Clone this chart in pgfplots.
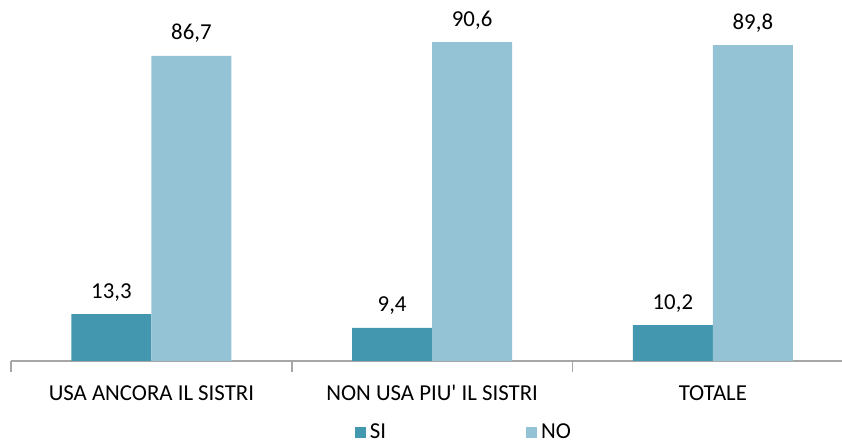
\documentclass[border=0pt]{standalone}
\usepackage{pgfplots}
\pgfplotsset{compat=1.18}
\usepackage{fontspec}
\setmainfont{Carlito}
\definecolor{siC}{HTML}{4398B0}
\definecolor{noC}{HTML}{93C3D5}
\definecolor{axC}{HTML}{A6A6A6}
\begin{document}
\begin{tikzpicture}
\begin{axis}[
  scale only axis,
  width=415.5pt, height=180.5pt,
  xmin=-0.5, xmax=2.46,
  ymin=0, ymax=102.6,
  ybar=0pt, bar width=40pt,
  axis x line*=bottom,
  axis y line=none,
  x axis line style={draw=axC, line width=0.8pt, -},
  xtick={0,1,2},
  xticklabels={USA ANCORA IL SISTRI, NON USA PIU\textquotesingle{} IL SISTRI, TOTALE},
  major x tick style={draw=none},
  minor xtick={-0.5,0.5,1.5,2.5},
  minor tick length=5.5pt,
  tick align=outside,
  minor x tick style={draw=axC, line width=0.8pt},
  xticklabel style={font=\fontsize{11.4}{13}\selectfont, yshift=-4.5pt},
  ytick=\empty,
  nodes near coords,
  every node near coord/.append style={font=\fontsize{11.4}{13}\selectfont, yshift=3pt, text=black},
  /pgf/number format/.cd, use comma, fixed, fixed zerofill, precision=1, assume math mode=true,
  /pgfplots/.cd,
  legend columns=2,
  legend style={draw=none, fill=none, at={(227pt,-36pt)}, anchor=center,
    font=\fontsize{11.4}{13}\selectfont,
    /tikz/every even column/.append style={column sep=68pt}},
  legend image code/.code={\fill[#1] (0pt,-2.75pt) rectangle (5.5pt,2.75pt);},
]
\addplot[fill=siC, draw=none] coordinates {(0,13.3) (1,9.4) (2,10.2)};
\addplot[fill=noC, draw=none] coordinates {(0,86.7) (1,90.6) (2,89.8)};
\legend{SI, NO}
\end{axis}
\pgfresetboundingbox
\path[use as bounding box] (-5.5pt,-41pt) rectangle (415.5pt,180.5pt);
\end{tikzpicture}
\end{document}
